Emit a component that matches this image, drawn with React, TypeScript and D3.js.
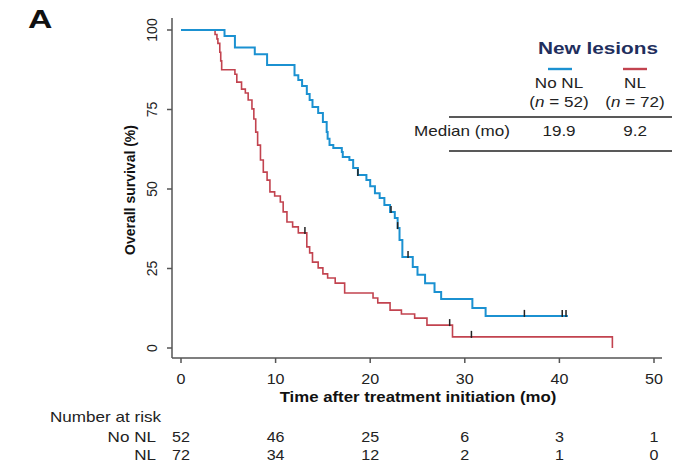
import React from "react";
import * as d3 from "d3";

// ---- Data ----
// Blue: No NL (n = 52) — [time (mo), survival (%) after drop]
const noNLSteps: [number, number][] = [
  [0, 100], [4.6, 98.1], [5.7, 94.5], [7.8, 92.4], [9.1, 89.0], [12.0, 85.8], [12.4, 84.3],
  [12.8, 82.4], [13.3, 79.9], [13.6, 78.0], [13.9, 75.8], [14.5, 73.9], [15.0, 71.1],
  [15.4, 67.9], [15.5, 65.8], [15.7, 63.8], [16.1, 62.9], [17.0, 61.6], [17.1, 60.1],
  [17.8, 59.1], [18.2, 56.6], [18.7, 54.4], [19.6, 52.8], [20.0, 50.9], [20.5, 48.7],
  [21.0, 47.2], [21.5, 45.0], [22.1, 42.8], [22.6, 40.9], [22.9, 37.7], [23.1, 34.0],
  [23.4, 28.6], [24.5, 25.5], [25.0, 23.0], [25.8, 20.4], [26.8, 17.6], [27.5, 15.4],
  [30.8, 12.6], [32.2, 10.1], [40.9, 10.1],
];
const noNLCensor: number[] = [18.7, 22.2, 22.9, 24.0, 36.3, 40.3, 40.7];

// Red: NL (n = 72)
const nlSteps: [number, number][] = [
  [0, 100], [3.6, 98.6], [3.8, 97.2], [3.9, 95.8], [4.1, 93.0], [4.2, 90.3], [4.3, 87.5],
  [5.7, 86.1], [5.9, 83.6], [6.4, 81.4], [6.8, 80.2], [7.1, 78.0], [7.5, 75.2], [7.7, 72.0],
  [7.9, 67.9], [8.1, 63.8], [8.4, 59.1], [8.7, 55.3], [9.1, 52.8], [9.4, 49.1], [9.9, 47.8],
  [10.5, 45.9], [10.8, 42.8], [11.2, 39.6], [11.8, 38.1], [12.4, 36.2], [13.3, 31.8],
  [13.6, 29.9], [13.9, 27.0], [14.5, 25.2], [15.0, 23.3], [15.5, 22.0], [16.3, 20.4],
  [17.3, 17.3], [20.3, 15.7], [20.8, 14.2], [22.1, 11.9], [23.3, 10.7], [24.7, 9.4],
  [26.0, 7.2], [28.7, 3.5], [45.6, 0],
];
const nlCensor: number[] = [13.1, 28.4, 30.7];

const xTicks = [0, 10, 20, 30, 40, 50];
const yTicks = [0, 25, 50, 75, 100];
const riskNoNL = [52, 46, 25, 6, 3, 1];
const riskNL = [72, 34, 12, 2, 1, 0];

const BLUE = "#1b91d1";
const RED = "#c2434f";
const FONT = "'Liberation Sans', Arial, sans-serif";

function survAt(steps: [number, number][], t: number) {
  let s = steps[0][1];
  for (const [tt, ss] of steps) {
    if (tt <= t) s = ss;
  }
  return s;
}

type TProps = {
  x: number;
  y: number;
  sx?: number;
  anchor?: "start" | "middle" | "end";
  size?: number;
  bold?: boolean;
  fill?: string;
  children: React.ReactNode;
};

function T({ x, y, sx = 1.22, anchor = "start", size = 14, bold = false, fill = "#222", children }: TProps) {
  return (
    <text
      transform={`translate(${x},${y}) scale(${sx},1)`}
      textAnchor={anchor}
      fontSize={size}
      fontWeight={bold ? "bold" : "normal"}
      fill={fill}
    >
      {children}
    </text>
  );
}

export default function App() {
  const x = d3.scaleLinear().domain([0, 50]).range([181, 654]);
  const y = d3.scaleLinear().domain([0, 100]).range([348, 30]);
  const line = d3
    .line<[number, number]>()
    .x((d) => x(d[0]))
    .y((d) => y(d[1]))
    .curve(d3.curveStepAfter);

  const axisX0 = 172;
  const axisY0 = 358;

  return (
    <div style={{ position: "fixed", left: 0, top: 0 }}>
      <svg width={685} height={462} style={{ display: "block", background: "#fff" }} fontFamily={FONT}>
        {/* Panel letter */}
        <T x={28} y={28} size={26} bold sx={1.3} fill="#111">A</T>

        {/* Axes */}
        <line x1={axisX0} y1={18} x2={axisX0} y2={axisY0} stroke="#555" strokeWidth={1.5} />
        <line x1={axisX0} y1={axisY0} x2={662} y2={axisY0} stroke="#555" strokeWidth={1.5} />
        {yTicks.map((v) => (
          <g key={"yt" + v}>
            <line x1={axisX0 - 5} x2={axisX0} y1={y(v)} y2={y(v)} stroke="#555" strokeWidth={1.5} />
            <text
              transform={`translate(${157},${y(v)}) rotate(-90)`}
              textAnchor="middle"
              fontSize={14}
              fill="#222"
            >
              {v}
            </text>
          </g>
        ))}
        {xTicks.map((v) => (
          <g key={"xt" + v}>
            <line x1={x(v)} x2={x(v)} y1={axisY0} y2={axisY0 + 5} stroke="#555" strokeWidth={1.5} />
            <T x={x(v)} y={384} anchor="middle" sx={1.15}>{v}</T>
          </g>
        ))}
        <T x={418} y={402} anchor="middle" bold sx={1.2} fill="#111">
          Time after treatment initiation (mo)
        </T>
        <text
          transform={`translate(${135},${190}) rotate(-90)`}
          textAnchor="middle"
          fontSize={14}
          fontWeight="bold"
          fill="#111"
        >
          Overall survival (%)
        </text>

        {/* Curves */}
        <path d={line(nlSteps) || ""} fill="none" stroke={RED} strokeWidth={1.6} />
        <path d={line(noNLSteps) || ""} fill="none" stroke={BLUE} strokeWidth={2} />
        {noNLCensor.map((t, i) => (
          <line key={"cb" + i} x1={x(t)} x2={x(t)} y1={y(survAt(noNLSteps, t)) - 6} y2={y(survAt(noNLSteps, t)) + 1} stroke="#222" strokeWidth={1.5} />
        ))}
        {nlCensor.map((t, i) => (
          <line key={"cr" + i} x1={x(t)} x2={x(t)} y1={y(survAt(nlSteps, t)) - 6} y2={y(survAt(nlSteps, t)) + 1} stroke="#222" strokeWidth={1.5} />
        ))}

        {/* Legend / median table */}
        <T x={598} y={54} anchor="middle" size={16.5} bold sx={1.26} fill="#1f2f5e">New lesions</T>
        <line x1={548} x2={572} y1={69} y2={69} stroke={BLUE} strokeWidth={2.4} />
        <line x1={623} x2={647} y1={69} y2={69} stroke={RED} strokeWidth={2.4} />
        <T x={559} y={88} anchor="middle">No NL</T>
        <T x={635} y={88} anchor="middle">NL</T>
        <T x={559} y={107} anchor="middle">
          (<tspan fontStyle="italic">n</tspan> = 52)
        </T>
        <T x={635} y={107} anchor="middle">
          (<tspan fontStyle="italic">n</tspan> = 72)
        </T>
        <line x1={449} x2={672} y1={117} y2={117} stroke="#222" strokeWidth={1.6} />
        <T x={414} y={136}>Median (mo)</T>
        <T x={559} y={136} anchor="middle">19.9</T>
        <T x={635} y={136} anchor="middle">9.2</T>
        <line x1={449} x2={672} y1={151} y2={151} stroke="#222" strokeWidth={1.6} />

        {/* Number at risk */}
        <T x={50} y={422}>Number at risk</T>
        <T x={156} y={442} anchor="end">No NL</T>
        <T x={156} y={460} anchor="end">NL</T>
        {riskNoNL.map((v, i) => (
          <T key={"rn" + i} x={x(xTicks[i])} y={442} anchor="middle" sx={1.15}>{v}</T>
        ))}
        {riskNL.map((v, i) => (
          <T key={"rl" + i} x={x(xTicks[i])} y={460} anchor="middle" sx={1.15}>{v}</T>
        ))}
      </svg>
    </div>
  );
}
